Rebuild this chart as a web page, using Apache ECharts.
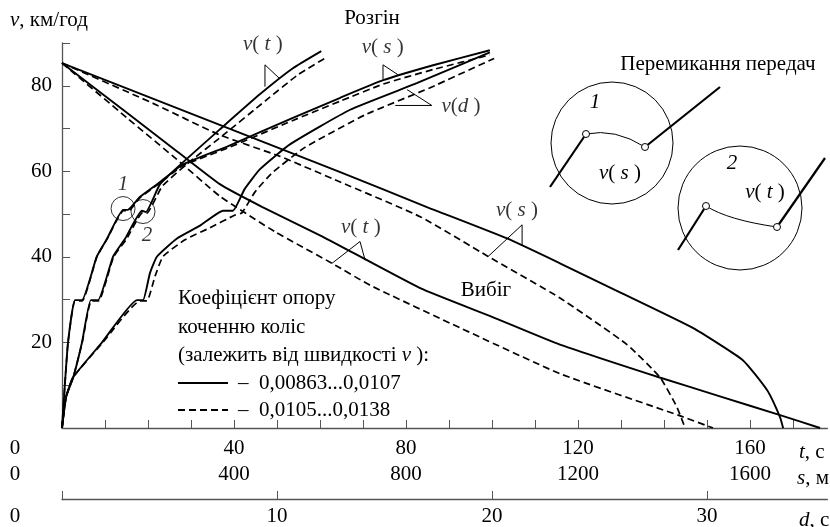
<!DOCTYPE html>
<html><head><meta charset="utf-8">
<script src="https://cdn.jsdelivr.net/npm/echarts@6/dist/echarts.min.js"></script>
<style>html,body{margin:0;padding:0;background:#fff}#c{width:830px;height:527px}</style>
</head><body><div id="c"></div>
<script>
// ---------- data (km/h vs t [s], s [m], d [s]) ----------
const tTickValues = [10,20,30,40,50,60,70,80,90,100,110,120,130,140,150,160,170];
const tLabelValues = [0,40,80,120,160];
const sLabelValues = [0,400,800,1200,1600];
const dLabelValues = [0,10,20,30];
const vTickLabels = [20,40,60,80];

// Acceleration (Розгін)
const accelVsSolid = [[0,0],[4.7,7.2],[14,20],[30,29.9],[46.5,29.9],[81,40.1],[105,44.3],[142,51],[153,51],[181,54],[228,57.5],[281,61.6],[384,65.8],[537,72.5],[647,77.2],[747,81.3],[863,84.8],[995,88.3]];
const accelVsDash  = [[0,0],[4.7,7.2],[14,20],[30,29.7],[47,29.7],[81,40],[105,44.2],[143,50.8],[155,50.8],[181,53.8],[228,57.3],[281,61.3],[384,65.4],[537,71.9],[647,76.4],[747,80.4],[863,83.8],[995,87.2]];
const accelVtSolid = [[0,0],[0.9,7.2],[2.6,11.8],[4.65,20],[6.7,29.9],[8.4,29.9],[11.9,40.1],[14.7,44.3],[18.6,50.8],[19.5,50.5],[22.8,57],[28.1,62.1],[36.7,69.8],[46,78],[53.7,84.1],[60.3,88.1]];
const accelVtDash  = [[0,0],[0.9,7.2],[2.6,11.8],[4.7,20],[6.8,29.7],[8.5,29.7],[12,40],[14.9,44],[18.8,50.4],[19.7,50.2],[23.3,56.5],[28.8,61.5],[37.9,68.8],[47.2,76.4],[54.9,82.6],[61.6,86.7]];
const accelVdSolid = [[0,0],[0.19,7.2],[0.51,11.8],[1.86,20],[3.49,29.9],[3.77,29.9],[4.09,36.2],[4.42,40.1],[5.35,44.3],[6.42,47.3],[7.49,50.8],[7.95,50.8],[8.5,55.9],[9.21,60.5],[10.6,66.3],[13.4,74.4],[16.5,80.6],[19.9,87.8]];
const accelVdDash  = [[0,0],[0.19,7.2],[0.51,11.8],[1.9,20],[3.63,29.7],[3.95,29.7],[4.33,35.5],[4.7,40.1],[5.72,44],[6.88,46.8],[8.05,49.8],[8.37,50.3],[8.98,55.2],[9.81,59.8],[11.3,65.6],[14.1,73.2],[17.1,79.5],[20.1,86.4]];

// Coast-down (Вибіг)
const coastVtSolid = [[0,85.3],[15.1,73.7],[26.7,64.7],[36.7,57],[46.5,51.7],[60.7,44.7],[83.3,32.7],[100,26],[115.8,19.5],[139,11.8],[153,7.4],[167,3],[176.3,0]];
const coastVtDash  = [[0,85.3],[15.1,72.5],[26.7,62.8],[36.7,54.2],[49.5,45.9],[62.8,38.5],[71.6,33.4],[92.6,23.4],[115.8,12.7],[143.3,3],[151.4,0]];
const coastVsSolid = [[0,85.3],[300,73.5],[647,59.8],[850,51.6],[1035,44.3],[1158,38.5],[1300,31.6],[1467,23.4],[1584,15.8],[1640,8.8],[1670,2.5],[1677,0]];
const coastVsDash  = [[0,85.3],[205,76.2],[367,68.5],[507,63.5],[647,57.5],[833,49.4],[991,40.1],[1158,30.4],[1314,19.5],[1391,11.8],[1430,4.9],[1449,0]];

// Callouts (leader lines) and their labels
const calloutT = [ [[47.2,79.8],[47.2,84.9],[50.7,81.6]], [[70.5,39.2],[69.3,43.6],[62.8,38.5]] ];
const calloutS = [ [[746.5,81.5],[746.5,84.9],[781,82.6]], [[1070,42.7],[1070,47.5],[991,40.1]] ];
const calloutD = [ [[15.5,75.4],[17.2,75.4],[16.05,79.1]] ];
const labelsT = [[46.7,89.6,'{i|v}( {i|t} )'],[69.5,46.8,'{i|v}( {i|t} )']];
const labelsS = [[746,88.9,'{i|v}( {i|s} )'],[1058,50.9,'{i|v}( {i|s} )']];
const labelsD = [[18.56,75.2,'{i|v}({i|d} )']];
const shiftCircles = [[14.2,51.3,'1','top'],[18.84,50.6,'2','bottom']];

const SOLID_NAME = '0,00863...0,0107';
const DASH_NAME = '0,0105...0,0138';

// ---------- chart ----------
const FONT = 'Liberation Serif';
const FS = 21;
const AX = '#555';
const chart = echarts.init(document.getElementById('c'));

function curve(data, xi, dashed) {
  return {type:'line', xAxisIndex:xi, yAxisIndex:0, data:data, name: dashed?DASH_NAME:SOLID_NAME,
    symbol:'none', smooth:0.15, silent:true, animation:false, color:'#000',
    lineStyle:{color:'#000', width: dashed?1.7:1.9, type: dashed?[7,4]:'solid'}, emphasis:{disabled:true}, z:3};
}
function leader(pts, xi) {
  return {type:'line', xAxisIndex:xi, yAxisIndex:0, data:pts, symbol:'none', silent:true, animation:false,
    lineStyle:{color:'#000', width:1}, emphasis:{disabled:true}, z:4};
}
const richI = {
  i:{fontStyle:'italic', fontFamily:FONT, fontSize:FS, color:'#000', lineHeight:22},
  r:{fontStyle:'normal', fontFamily:FONT, fontSize:FS, color:'#000', lineHeight:22}
};
function labelSeries(arr, xi) {
  return {type:'scatter', xAxisIndex:xi, yAxisIndex:0, data:arr, symbolSize:1, silent:true, animation:false,
    itemStyle:{color:'rgba(0,0,0,0)'},
    label:{show:true, position:'inside', formatter:p=>p.data[2], fontFamily:FONT, fontSize:FS, color:'#000', rich:richI}, z:5};
}
const zeroRich = {z:{padding:[0,94,0,0], fontFamily:FONT, fontSize:FS, color:'#000'}};
const zeroFmt = v => v===0 ? '{z|0}' : String(v);

const series = [
  curve(accelVsSolid,1,false), curve(accelVsDash,1,true),
  curve(accelVtSolid,0,false), curve(accelVtDash,0,true),
  curve(accelVdSolid,2,false), curve(accelVdDash,2,true),
  curve(coastVtSolid,0,false), curve(coastVtDash,0,true),
  curve(coastVsSolid,1,false), curve(coastVsDash,1,true)
];
calloutT.forEach(c=>series.push(leader(c,0)));
calloutS.forEach(c=>series.push(leader(c,1)));
calloutD.forEach(c=>series.push(leader(c,2)));
series.push(labelSeries(labelsT,0), labelSeries(labelsS,1), labelSeries(labelsD,2));
series.push({type:'scatter', xAxisIndex:0, yAxisIndex:0, silent:true, animation:false,
  data: shiftCircles.map(c=>({value:[c[0],c[1]], label:{formatter:c[2], position:c[3], distance:1, offset: c[3]==='bottom'?[4,0]:[0,0]}})),
  symbol:'circle', symbolSize:24, itemStyle:{color:'rgba(0,0,0,0)', borderColor:'#000', borderWidth:1},
  label:{show:true, fontFamily:FONT, fontSize:FS, fontStyle:'italic', color:'#000'}, z:5});

// free texts as title components (x = anchor, y = vertical centre)
const T = [];
const addText = (x, y, text, align) => T.push({text:text, left:x, top:y-11, padding:0, itemGap:0,
  textAlign: align || 'left', textStyle:{fontFamily:FONT, fontSize:FS, fontWeight:'normal', color:'#000', lineHeight:22, rich:richI}});
addText(10,20,'{i|v}{r|, км/год}');
addText(372,18,'Розгін','center');
addText(486,290,'Вибіг','center');
addText(718,64,'Перемикання передач','center');
addText(178,298,'Коефіцієнт опору');
addText(178,327,'коченню коліс');
addText(178,355,'{r|(залежить від швидкості }{i|v}{r| ):}');
addText(238,383,'–  ' + SOLID_NAME);
addText(238,410,'–  ' + DASH_NAME);
addText(799,452,'{i|t}{r|, с}');
addText(797,478,'{i|s}{r|, м}');
addText(799,520,'{i|d}{r|, с}');
addText(595,102,'{i|1}','center');
addText(620,173,'{i|v}{r|( }{i|s}{r| )}','center');
addText(732,163,'{i|2}','center');
addText(765,192,'{i|v}{r|( }{i|t}{r| )}','center');

// gear-shift inset sketches and legend samples
const G = [];
G.push({type:'line', silent:true, shape:{x1:178,y1:383,x2:228,y2:383}, style:{stroke:'#000', lineWidth:2}});
G.push({type:'line', silent:true, shape:{x1:178,y1:410,x2:228,y2:410}, style:{stroke:'#000', lineWidth:2, lineDash:[7,4]}});
const ring = (cx,cy,r)=>({type:'circle', silent:true, shape:{cx:cx,cy:cy,r:r}, style:{fill:'none', stroke:'#000', lineWidth:1}});
const thick = pts=>({type:'polyline', silent:true, shape:{points:pts}, style:{fill:'none', stroke:'#000', lineWidth:2.2}});
const dot = (x,y)=>({type:'circle', silent:true, shape:{cx:x,cy:y,r:3.5}, style:{fill:'#fff', stroke:'#000', lineWidth:1}, z:10});
const thin = (x1,y1,cx,cy,x2,y2)=>({type:'bezierCurve', silent:true, shape:{x1:x1,y1:y1,cpx1:cx,cpy1:cy,x2:x2,y2:y2}, style:{fill:'none', stroke:'#000', lineWidth:1}});
G.push(ring(612,143,61), thick([[550,187],[586,134]]), thin(586,134,615,128,645,147), thick([[645,147],[720,87]]), dot(586,134), dot(645,147));
G.push(ring(740,208,62), thick([[678,250],[706,206]]), thin(706,206,728,220,777,227), thick([[777,227],[825,158]]), dot(706,206), dot(777,227));

const labelStyle = {fontFamily:FONT, fontSize:FS, color:'#000'};
chart.setOption({
  animation:false,
  backgroundColor:'#fff',
  textStyle:{fontFamily:FONT},
  title:T,
  grid:{left:62, right:2.6, top:43, bottom:96, containLabel:false},
  xAxis:[
    {type:'value', min:0, max:178, position:'bottom', offset:0,
     axisLine:{show:true, onZero:false, lineStyle:{color:AX, width:1.3}},
     axisTick:{show:true, inside:true, length:8, customValues:tTickValues, lineStyle:{color:AX, width:1}},
     axisLabel:Object.assign({customValues:tLabelValues, margin:10, formatter:zeroFmt, rich:zeroRich}, labelStyle),
     splitLine:{show:false}},
    {type:'value', min:0, max:1780, position:'bottom', offset:26,
     axisLine:{show:false}, axisTick:{show:false},
     axisLabel:Object.assign({customValues:sLabelValues, margin:10, formatter:zeroFmt, rich:zeroRich}, labelStyle),
     splitLine:{show:false}},
    {type:'value', min:0, max:35.6, position:'bottom', offset:71,
     axisLine:{show:true, onZero:false, lineStyle:{color:AX, width:1.3}},
     axisTick:{show:true, inside:true, length:8, customValues:dLabelValues, lineStyle:{color:AX, width:1}},
     axisLabel:Object.assign({customValues:dLabelValues, margin:7, formatter:zeroFmt, rich:zeroRich}, labelStyle),
     splitLine:{show:false}}
  ],
  yAxis:[{type:'value', min:0, max:90, interval:10,
     axisLine:{show:true, onZero:false, lineStyle:{color:AX, width:1.3}},
     axisTick:{show:true, inside:true, length:8, lineStyle:{color:AX, width:1}},
     axisLabel:Object.assign({customValues:vTickLabels, margin:10}, labelStyle),
     splitLine:{show:false}}],
  graphic:G,
  series:series
});
</script></body></html>
